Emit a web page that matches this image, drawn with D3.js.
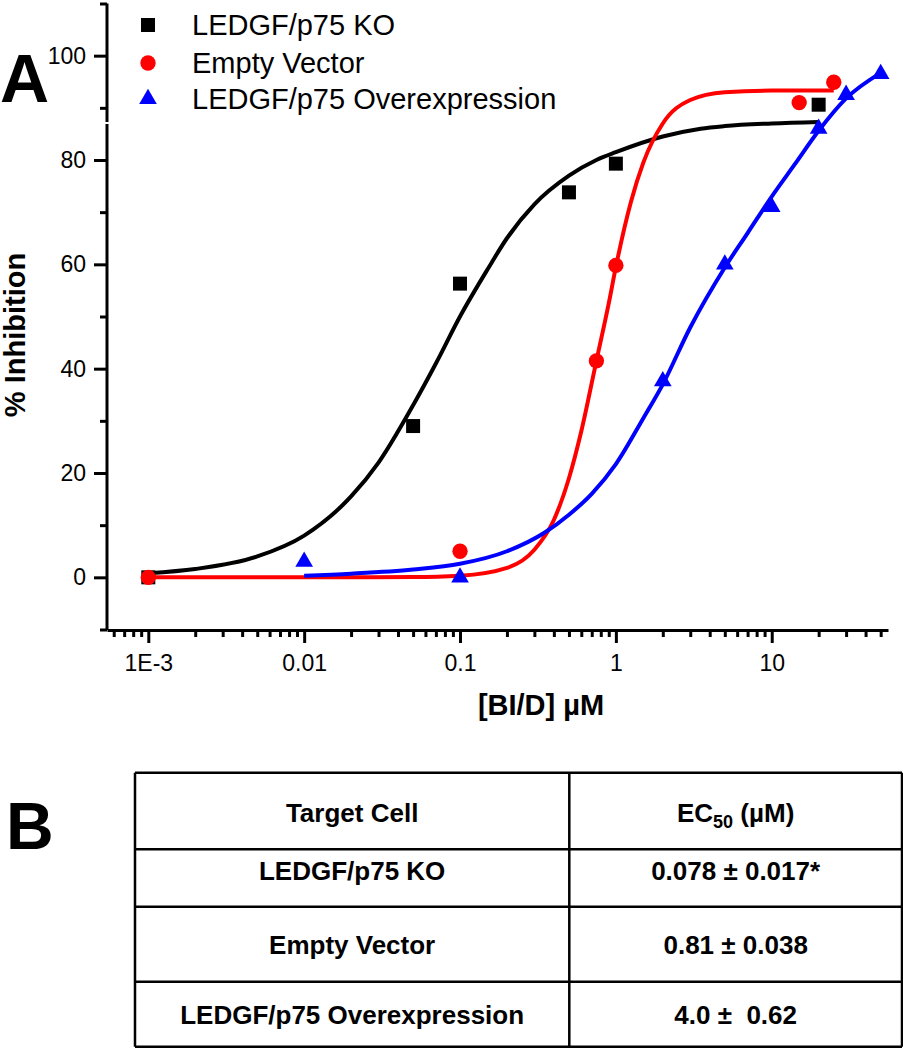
<!DOCTYPE html>
<html>
<head>
<meta charset="utf-8">
<script src="https://cdn.jsdelivr.net/npm/d3@7"></script>
<style>
  html, body { margin: 0; padding: 0; background: #fff; }
  svg { display: block; font-family: "Liberation Sans", Arial, sans-serif; }
</style>
</head>
<body>
<svg id="chart" width="903" height="1050"></svg>
<script>
// ---------------- DATA ----------------
const seriesNames = ["LEDGF/p75 KO", "Empty Vector", "LEDGF/p75 Overexpression"];
const seriesColors = ["#000000", "#ff0000", "#0000ff"];

// measured points [concentration µM, % inhibition]
const koPoints = [[0.001, 0], [0.05, 29], [0.1, 56.3], [0.5, 73.8], [1, 79.3], [20, 90.6]];
const evPoints = [[0.001, 0], [0.1, 5], [0.75, 41.5], [1, 59.8], [15, 91], [25, 94.9]];
const oePoints = [[0.01, 3], [0.1, 0], [2, 37.6], [5, 60], [10, 71], [20, 86], [30, 92.5], [50, 96.5]];

// fitted curves
const koCurve = [[0.001, 0.8], [0.002, 1.6], [0.005, 4], [0.01, 8], [0.02, 15.5], [0.03, 22], [0.05, 33],
  [0.07, 41], [0.1, 50], [0.15, 59], [0.2, 65], [0.3, 71.5], [0.5, 77], [0.75, 80], [1, 81.5],
  [2, 84.5], [3.5, 86], [5, 86.5], [10, 87], [20, 87.3]];
const evCurve = [[0.001, 0], [0.01, 0], [0.05, 0.05], [0.1, 0.3], [0.2, 1.8], [0.3, 5.3], [0.4, 11],
  [0.5, 19], [0.6, 28], [0.75, 41.5], [0.9, 52.5], [1, 59.5], [1.25, 72], [1.5, 79.5], [2, 87],
  [3, 91.5], [5, 93], [10, 93.3], [25, 93.3]];
const oeCurve = [[0.01, 0.3], [0.02, 0.7], [0.05, 1.5], [0.1, 2.6], [0.2, 5], [0.35, 8.6], [0.5, 12],
  [0.7, 16], [1, 21.7], [1.5, 30.5], [2, 37], [3, 47.9], [5, 59.4], [7, 66], [10, 73], [14, 79.1],
  [20, 85.6], [30, 91.8], [50, 96.7]];

const xMajorTicks = [0.001, 0.01, 0.1, 1, 10];
const xMajorLabels = ["1E-3", "0.01", "0.1", "1", "10"];
const yMajorTicks = [0, 20, 40, 60, 80, 100];
const yMinorTicks = [-10, 10, 30, 50, 70, 90, 110];

const tableHeader = ["Target Cell", "EC50 (µM)"];
const tableCells = ["LEDGF/p75 KO", "Empty Vector", "LEDGF/p75 Overexpression"];
const tableEC50 = ["0.078 \u00b1 0.017*", "0.81 \u00b1 0.038", "4.0 \u00b1  0.62"];

// ---------------- LAYOUT ----------------
const svg = d3.select("#chart");
const xMin = Math.pow(10, -3.265), xMax = Math.pow(10, 1.746);
const x = d3.scaleLog().domain([xMin, xMax]).range([107, 888]);
const y = d3.scaleLinear().domain([-10, 110]).range([629.5, 3.5]);
const xAxisY = 630, yAxisX = 107;

// minor x ticks
const xMinorTicks = [];
for (let e = -4; e <= 1; e++) {
  for (let m = 2; m <= 9; m++) {
    const v = m * Math.pow(10, e);
    if (v >= xMin && v <= xMax) xMinorTicks.push(v);
  }
}

function styleAxis(g) {
  g.selectAll("path.domain").attr("stroke", "#000").attr("stroke-width", 3);
  g.selectAll(".tick line").attr("stroke", "#000").attr("stroke-width", 3);
  g.selectAll(".tick text").attr("fill", "#000").attr("font-size", 23)
    .attr("font-family", "'Liberation Sans', Arial, sans-serif");
}

// X axis
const gxMinor = svg.append("g").attr("transform", `translate(0,${xAxisY})`)
  .call(d3.axisBottom(x).tickValues(xMinorTicks).tickSize(7).tickSizeOuter(0).tickFormat(""));
styleAxis(gxMinor);
gxMinor.select("path.domain").remove();
const gx = svg.append("g").attr("transform", `translate(0,${xAxisY})`)
  .call(d3.axisBottom(x).tickValues(xMajorTicks).tickSize(13).tickSizeOuter(0).tickPadding(12)
    .tickFormat((d, i) => xMajorLabels[i]));
styleAxis(gx);

// Y axis
const gyMinor = svg.append("g").attr("transform", `translate(${yAxisX},0)`)
  .call(d3.axisLeft(y).tickValues(yMinorTicks).tickSize(7).tickSizeOuter(0).tickFormat(""));
styleAxis(gyMinor);
gyMinor.select("path.domain").remove();
const gy = svg.append("g").attr("transform", `translate(${yAxisX},0)`)
  .call(d3.axisLeft(y).tickValues(yMajorTicks).tickSize(13).tickSizeOuter(0).tickPadding(8)
    .tickFormat(d3.format("d")));
styleAxis(gy);
gy.select("path.domain").attr("d", `M0,${y(110)}V${xAxisY}`);

// small gap in y axis line
svg.append("rect").attr("x", yAxisX - 3).attr("y", 122).attr("width", 6).attr("height", 2).attr("fill", "#fff");

// Axis titles
svg.append("text").attr("x", 541).attr("y", 715).attr("text-anchor", "middle")
  .attr("font-size", 29).attr("font-weight", "bold").text("[BI/D] \u00b5M");
svg.append("text").attr("transform", "translate(25,335) rotate(-90)").attr("text-anchor", "middle")
  .attr("font-size", 29).attr("font-weight", "bold").text("% Inhibition");

// Panel letters
svg.append("text").attr("x", 0).attr("y", 102).attr("font-size", 68).attr("font-weight", "bold").text("A");
svg.append("text").attr("x", 6).attr("y", 849).attr("font-size", 66).attr("font-weight", "bold").text("B");

// ---------------- CURVES & POINTS ----------------
const line = d3.line().x(d => x(d[0])).y(d => y(d[1])).curve(d3.curveMonotoneX);
const symbols = [
  d3.symbol().type(d3.symbolSquare).size(196),
  d3.symbol().type(d3.symbolCircle).size(185),
  d3.symbol().type(d3.symbolTriangle).size(135)
];
const curves = [koCurve, evCurve, oeCurve];
const points = [koPoints, evPoints, oePoints];

curves.forEach((c, i) => {
  svg.append("path").datum(c).attr("d", line).attr("fill", "none")
    .attr("stroke", seriesColors[i]).attr("stroke-width", 4);
  svg.append("g").selectAll("path").data(points[i]).join("path")
    .attr("d", symbols[i]).attr("fill", seriesColors[i])
    .attr("transform", d => `translate(${x(d[0])},${y(d[1])})`);
});

// ---------------- LEGEND ----------------
const legendY = [25, 63, 99];
const legend = svg.append("g");
seriesNames.forEach((name, i) => {
  legend.append("path").attr("d", symbols[i]()).attr("fill", seriesColors[i])
    .attr("transform", `translate(148,${legendY[i]})`);
  legend.append("text").attr("x", 192).attr("y", legendY[i] + 10).attr("font-size", 29)
    .attr("fill", "#000").text(name);
});

// ---------------- TABLE ----------------
const tLeft = 135, tRight = 902, tMid = 569.3;
const rowEdges = [772.7, 849.3, 906.7, 981.7, 1046.7];
const tbl = svg.append("g");
rowEdges.forEach(ry => tbl.append("line").attr("x1", tLeft).attr("x2", tRight)
  .attr("y1", ry).attr("y2", ry).attr("stroke", "#000").attr("stroke-width", 2.5));
[tLeft, tMid, tRight].forEach(cx => tbl.append("line").attr("x1", cx).attr("x2", cx)
  .attr("y1", rowEdges[0]).attr("y2", rowEdges[rowEdges.length - 1]).attr("stroke", "#000").attr("stroke-width", 2.5));

const c1 = (tLeft + tMid) / 2, c2 = (tMid + tRight) / 2;
const baseOffsets = [11, 2, 10, 10];
function rowBase(i) { return (rowEdges[i] + rowEdges[i + 1]) / 2 + baseOffsets[i]; }

tbl.append("text").attr("x", c1).attr("y", rowBase(0)).attr("text-anchor", "middle")
  .attr("font-size", 26).attr("font-weight", "bold").text(tableHeader[0]);
const ecText = tbl.append("text").attr("x", c2).attr("y", rowBase(0)).attr("text-anchor", "middle")
  .attr("font-size", 26).attr("font-weight", "bold");
ecText.append("tspan").text("EC");
ecText.append("tspan").attr("font-size", 18).attr("dy", 6).text("50");
ecText.append("tspan").attr("dy", -6).text(" (\u00b5M)");

tableCells.forEach((cell, i) => {
  tbl.append("text").attr("x", c1).attr("y", rowBase(i + 1)).attr("text-anchor", "middle")
    .attr("font-size", 26).attr("font-weight", "bold").text(cell);
  tbl.append("text").attr("x", c2).attr("y", rowBase(i + 1)).attr("text-anchor", "middle")
    .attr("font-size", 26).attr("font-weight", "bold").attr("xml:space", "preserve")
    .style("white-space", "pre").text(tableEC50[i]);
});
</script>
</body>
</html>
